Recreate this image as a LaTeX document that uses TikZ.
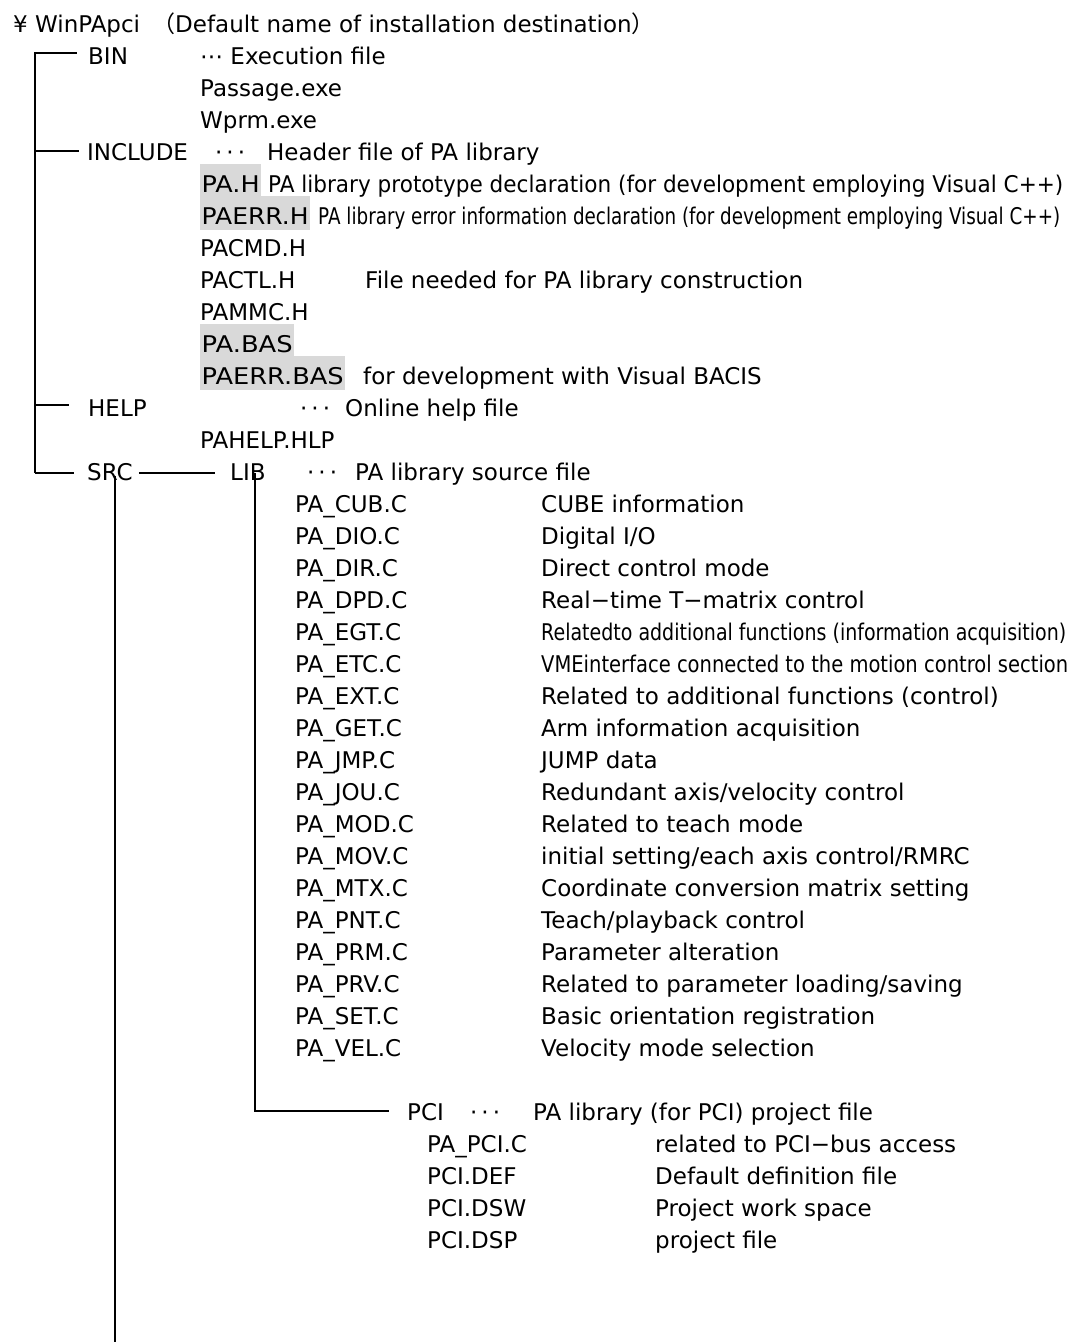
\documentclass[tikz,border=0pt]{standalone}
\usepackage{fontspec}
\setmainfont{DejaVu Sans}
\newfontfamily\cjk{Noto Sans CJK JP}
\usepackage{graphicx}
\newcommand\dd{·\kern4pt·\kern4pt·}
\newcommand\sq[2]{\resizebox{#1pt}{\height}{#2}}
\begin{document}
\begin{tikzpicture}[x=1pt,y=-1pt,
  txt/.style={anchor=base west, inner sep=0pt, font=\fontsize{23}{28}\selectfont},
  hl/.style={txt, fill=black!15, inner xsep=1.5pt, text height=28pt, text depth=6pt},
  ln/.style={line width=1.6pt}]
\useasboundingbox (0,0) rectangle (1072,1342);
% root
\node[txt] (root) at (13,32) {¥ WinPApci};
\node[txt] (rootnote) at (152,32) {{\cjk （}Default name of installation destination{\cjk ）}};
% BIN
\node[txt] (bin) at (88,64) {BIN};
\node[txt] (binnote) at (200,64) {⋯ Execution file};
\node[txt] (passage) at (200,96) {Passage.exe};
\node[txt] (wprm) at (200,128) {Wprm.exe};
% INCLUDE
\node[txt] (include) at (87,160) {INCLUDE};
\node[txt] (incdots) at (215,160) {\dd};
\node[txt] (incnote) at (267,160) {Header file of PA library};
\node[hl] (pah) at (200,192) {\sq{58}{PA.H}};
\node[txt] (pahnote) at (268,192) {\sq{795}{PA library prototype declaration (for development employing Visual C++)}};
\node[hl] (paerrh) at (200,224) {\sq{107}{PAERR.H}};
\node[txt] (paerrhnote) at (318,224) {\sq{742}{PA library error information declaration (for development employing Visual C++)}};
\node[txt] (pacmd) at (200,256) {PACMD.H};
\node[txt] (pactl) at (200,288) {PACTL.H};
\node[txt] (pactlnote) at (365,288) {File needed for PA library construction};
\node[txt] (pammc) at (200,320) {PAMMC.H};
\node[hl] (pabas) at (200,352) {\sq{91}{PA.BAS}};
\node[hl] (paerrbas) at (200,384) {\sq{142}{PAERR.BAS}};
\node[txt] (paerrbasnote) at (363,384) {for development with Visual BACIS};
% HELP
\node[txt] (help) at (88,416) {HELP};
\node[txt] (helpdots) at (300,416) {\dd};
\node[txt] (helpnote) at (345,416) {Online help file};
\node[txt] (pahelp) at (200,448) {PAHELP.HLP};
% SRC
\node[txt] (src) at (87,480) {SRC};
\node[txt] (lib) at (230,480) {LIB};
\node[txt] (libdots) at (307,480) {\dd};
\node[txt] (libnote) at (355,480) {PA library source file};
% LIB children
\node[txt] (c1) at (295,512) {PA\_CUB.C};   \node[txt] (d1) at (541,512) {CUBE information};
\node[txt] (c2) at (295,544) {PA\_DIO.C};   \node[txt] (d2) at (541,544) {Digital I/O};
\node[txt] (c3) at (295,576) {PA\_DIR.C};   \node[txt] (d3) at (541,576) {Direct control mode};
\node[txt] (c4) at (295,608) {PA\_DPD.C};   \node[txt] (d4) at (541,608) {Real−time T−matrix control};
\node[txt] (c5) at (295,640) {PA\_EGT.C};   \node[txt] (d5) at (541,640) {\sq{525}{Relatedto additional functions (information acquisition)}};
\node[txt] (c6) at (295,672) {PA\_ETC.C};   \node[txt] (d6) at (541,672) {\sq{527}{VMEinterface connected to the motion control section}};
\node[txt] (c7) at (295,704) {PA\_EXT.C};   \node[txt] (d7) at (541,704) {Related to additional functions (control)};
\node[txt] (c8) at (295,736) {PA\_GET.C};   \node[txt] (d8) at (541,736) {Arm information acquisition};
\node[txt] (c9) at (295,768) {PA\_JMP.C};   \node[txt] (d9) at (541,768) {JUMP data};
\node[txt] (c10) at (295,800) {PA\_JOU.C};  \node[txt] (d10) at (541,800) {Redundant axis/velocity control};
\node[txt] (c11) at (295,832) {PA\_MOD.C};  \node[txt] (d11) at (541,832) {Related to teach mode};
\node[txt] (c12) at (295,864) {PA\_MOV.C};  \node[txt] (d12) at (541,864) {initial setting/each axis control/RMRC};
\node[txt] (c13) at (295,896) {PA\_MTX.C};  \node[txt] (d13) at (541,896) {Coordinate conversion matrix setting};
\node[txt] (c14) at (295,928) {PA\_PNT.C};  \node[txt] (d14) at (541,928) {Teach/playback control};
\node[txt] (c15) at (295,960) {PA\_PRM.C};  \node[txt] (d15) at (541,960) {Parameter alteration};
\node[txt] (c16) at (295,992) {PA\_PRV.C};  \node[txt] (d16) at (541,992) {Related to parameter loading/saving};
\node[txt] (c17) at (295,1024) {PA\_SET.C}; \node[txt] (d17) at (541,1024) {Basic orientation registration};
\node[txt] (c18) at (295,1056) {PA\_VEL.C}; \node[txt] (d18) at (541,1056) {Velocity mode selection};
% PCI
\node[txt] (pci) at (407,1120) {PCI};
\node[txt] (pcidots) at (470,1120) {\dd};
\node[txt] (pcinote) at (533,1120) {PA library (for PCI) project file};
\node[txt] (p1) at (427,1152) {PA\_PCI.C}; \node[txt] (q1) at (655,1152) {related to PCI−bus access};
\node[txt] (p2) at (427,1184) {PCI.DEF};   \node[txt] (q2) at (655,1184) {Default definition file};
\node[txt] (p3) at (427,1216) {PCI.DSW};   \node[txt] (q3) at (655,1216) {Project work space};
\node[txt] (p4) at (427,1248) {PCI.DSP};   \node[txt] (q4) at (655,1248) {project file};
% connectors
\coordinate (t1) at (35,53);
\coordinate (t2) at (35,151);
\coordinate (t3) at (35,405);
\coordinate (t4) at (35,473);
\coordinate (srcbot) at (115,1342);
\coordinate (libcorner) at (255,1111);
\draw[ln, shorten >=11pt] (t4) -- (t1) -- (t1 -| bin.west);
\draw[ln, shorten >=8pt] (t2) -- (t2 -| include.west);
\draw[ln, shorten >=19pt] (t3) -- (t3 -| help.west);
\draw[ln, shorten >=13pt] (t4) -- (t4 -| src.west);
\draw[ln, shorten <=6pt, shorten >=15pt] (t4 -| src.east) -- (t4 -| lib.west);
\draw[ln] ([yshift=5pt]src.south -| srcbot) -- (srcbot);
\draw[ln, shorten >=18pt] ([yshift=7pt]lib.south -| libcorner) -- (libcorner) -- (libcorner -| pci.west);
\end{tikzpicture}
\end{document}
